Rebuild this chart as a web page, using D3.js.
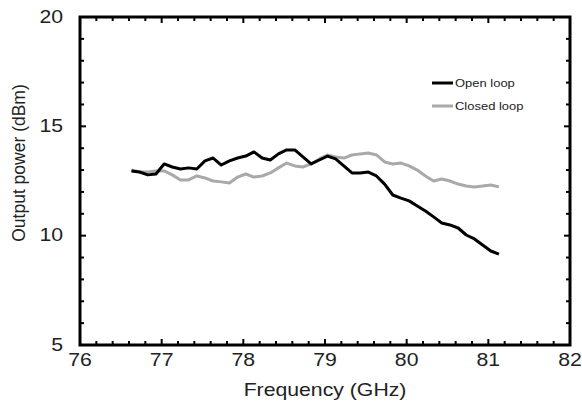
<!DOCTYPE html>
<html>
<head>
<meta charset="utf-8">
<script src="https://cdn.jsdelivr.net/npm/d3@7"></script>
<style>
  body { margin: 0; background: #fff; }
  text { font-family: "Liberation Sans", Arial, sans-serif; fill: #222; }
</style>
</head>
<body>
<div id="chart"></div>
<script>
const width = 582;
const height = 415;
const margin = { top: 17, right: 12, bottom: 70, left: 80 };
const plotWidth = width - margin.left - margin.right;
const plotHeight = height - margin.top - margin.bottom;

// Frequency points (GHz)
const freq = [
  76.63, 76.73, 76.83, 76.93, 77.03, 77.13, 77.23, 77.33, 77.43, 77.53,
  77.63, 77.73, 77.83, 77.93, 78.03, 78.13, 78.23, 78.33, 78.43, 78.53,
  78.63, 78.73, 78.83, 78.93, 79.03, 79.13, 79.23, 79.33, 79.43, 79.53,
  79.63, 79.73, 79.83, 79.93, 80.03, 80.13, 80.23, 80.33, 80.43, 80.53,
  80.63, 80.73, 80.83, 80.93, 81.03, 81.13,
];

// Output power (dBm)
const openLoop = [
  12.96, 12.91, 12.78, 12.82, 13.28, 13.14, 13.05, 13.10, 13.05, 13.42,
  13.55, 13.23, 13.42, 13.55, 13.64, 13.83, 13.55, 13.46, 13.74, 13.92,
  13.92, 13.60, 13.28, 13.46, 13.64, 13.51, 13.19, 12.87, 12.87, 12.91,
  12.73, 12.36, 11.86, 11.72, 11.59, 11.36, 11.13, 10.86, 10.58, 10.49,
  10.35, 10.03, 9.85, 9.57, 9.30, 9.16,
];

const closedLoop = [
  13.0, 12.91, 12.91, 12.96, 12.96, 12.78, 12.55, 12.55, 12.73, 12.64,
  12.50, 12.46, 12.41, 12.68, 12.82, 12.68, 12.73, 12.87, 13.10, 13.32,
  13.19, 13.14, 13.28, 13.51, 13.69, 13.60, 13.55, 13.69, 13.74, 13.78,
  13.69, 13.37, 13.28, 13.32, 13.19, 13.0, 12.73, 12.50, 12.59, 12.50,
  12.36, 12.27, 12.23, 12.27, 12.32, 12.23,
];

const seriesNames = ["Open loop", "Closed loop"];
const seriesColors = ["#000000", "#a9a9a9"];

const xMajor = [76, 77, 78, 79, 80, 81, 82];
const yMajor = [5, 10, 15, 20];
const xMinor = [
  76.2, 76.4, 76.6, 76.8, 77.2, 77.4, 77.6, 77.8, 78.2, 78.4, 78.6, 78.8,
  79.2, 79.4, 79.6, 79.8, 80.2, 80.4, 80.6, 80.8, 81.2, 81.4, 81.6, 81.8,
];
const yMinor = [6, 7, 8, 9, 11, 12, 13, 14, 16, 17, 18, 19];

const svg = d3
  .select("#chart")
  .append("svg")
  .attr("width", width)
  .attr("height", height);

const g = svg
  .append("g")
  .attr("transform", `translate(${margin.left},${margin.top})`);

const x = d3.scaleLinear().domain([76, 82]).range([0, plotWidth]);
const y = d3.scaleLinear().domain([5, 20]).range([plotHeight, 0]);

// the reference text is slightly wider than Arial
const stretch = "scale(1.18,1)";

// Frame
g.append("rect")
  .attr("width", plotWidth)
  .attr("height", plotHeight)
  .attr("fill", "none")
  .attr("stroke", "#000")
  .attr("stroke-width", 3);

// Inward ticks on all four sides
const ticks = g.append("g").attr("stroke", "#000").attr("stroke-width", 2);
function xTicks(values, len) {
  values.forEach((v) => {
    ticks.append("line").attr("x1", x(v)).attr("x2", x(v))
      .attr("y1", plotHeight).attr("y2", plotHeight - len);
    ticks.append("line").attr("x1", x(v)).attr("x2", x(v))
      .attr("y1", 0).attr("y2", len);
  });
}
function yTicks(values, len) {
  values.forEach((v) => {
    ticks.append("line").attr("x1", 0).attr("x2", len)
      .attr("y1", y(v)).attr("y2", y(v));
    ticks.append("line").attr("x1", plotWidth).attr("x2", plotWidth - len)
      .attr("y1", y(v)).attr("y2", y(v));
  });
}
xTicks(xMinor, 4);
xTicks(xMajor, 6);
yTicks(yMinor, 4);
yTicks(yMajor, 6);

// Tick labels
g.append("g")
  .selectAll("text")
  .data(xMajor)
  .join("text")
  .attr("transform", (d) => `translate(${x(d)},${plotHeight + 8}) ${stretch}`)
  .attr("dy", "0.71em")
  .attr("text-anchor", "middle")
  .attr("font-size", 18)
  .text((d) => d);

g.append("g")
  .selectAll("text")
  .data(yMajor)
  .join("text")
  .attr("transform", (d) => `translate(-17,${y(d)}) ${stretch}`)
  .attr("dy", "0.32em")
  .attr("text-anchor", "end")
  .attr("font-size", 18)
  .text((d) => d);

// Lines (closed loop underneath)
const line = d3
  .line()
  .x((d) => x(d[0]))
  .y((d) => y(d[1]));

[closedLoop, openLoop].forEach((vals, k) => {
  const i = 1 - k;
  g.append("path")
    .datum(freq.map((f, j) => [f, vals[j]]))
    .attr("fill", "none")
    .attr("stroke", seriesColors[i])
    .attr("stroke-width", 3)
    .attr("stroke-linejoin", "round")
    .attr("d", line);
});

// Legend
const legend = svg.append("g").attr("transform", "translate(432,83)");
seriesNames.forEach((name, i) => {
  legend
    .append("line")
    .attr("x1", 0)
    .attr("x2", 21)
    .attr("y1", i * 23)
    .attr("y2", i * 23)
    .attr("stroke", seriesColors[i])
    .attr("stroke-width", 3);
  legend
    .append("text")
    .attr("transform", `translate(23,${i * 23}) ${stretch}`)
    .attr("dy", "0.35em")
    .attr("font-size", 11)
    .text(name);
});

// Axis titles
svg
  .append("text")
  .attr("transform", `translate(${margin.left + plotWidth / 2},396) ${stretch}`)
  .attr("text-anchor", "middle")
  .attr("font-size", 18)
  .text("Frequency (GHz)");

svg
  .append("text")
  .attr("transform", "translate(25,163) rotate(-90)")
  .attr("text-anchor", "middle")
  .attr("font-size", 17.5)
  .text("Output power (dBm)");
</script>
</body>
</html>
